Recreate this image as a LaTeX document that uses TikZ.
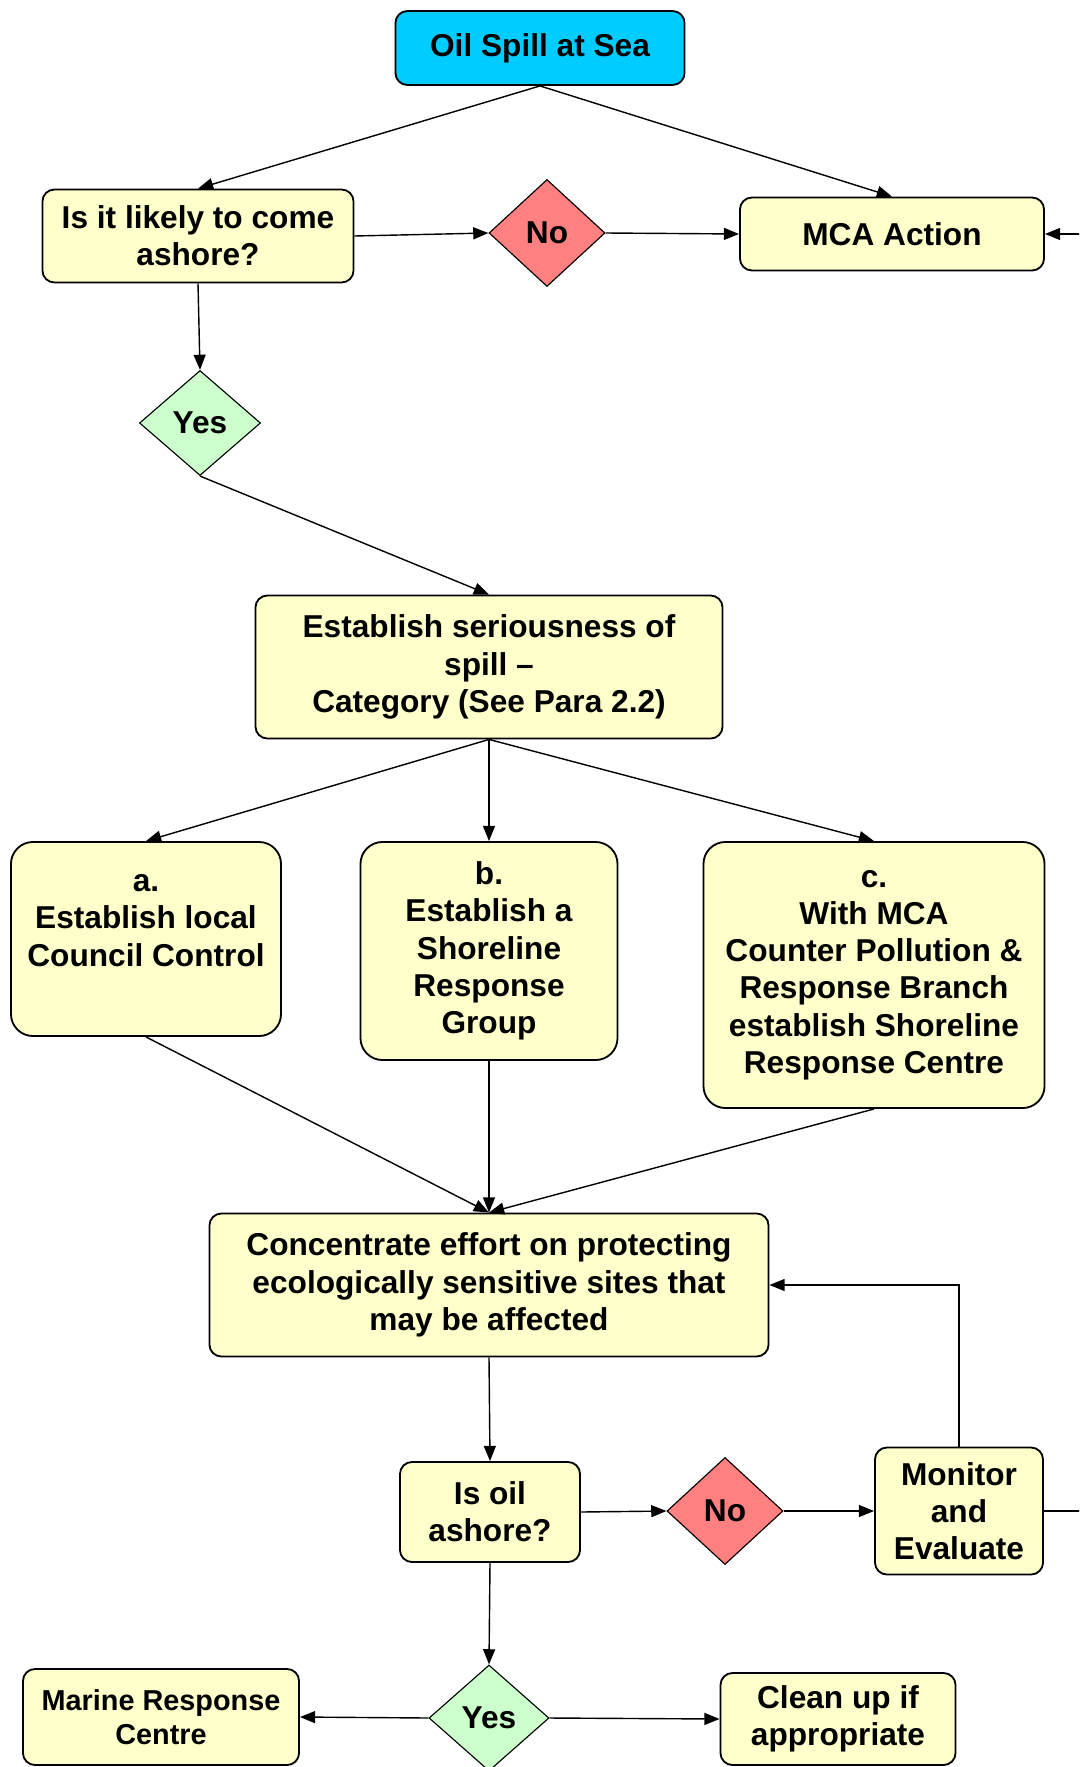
\documentclass[tikz,border=0pt]{standalone}
\usepackage{fontspec}
\setmainfont{Liberation Sans}
\usetikzlibrary{shapes,arrows.meta,positioning,calc}
\definecolor{spillcyan}{RGB}{0,204,255}
\definecolor{boxyellow}{RGB}{255,255,204}
\definecolor{norose}{RGB}{255,128,128}
\definecolor{yesgreen}{RGB}{204,255,204}

\begin{document}
\begin{tikzpicture}[x=0.025cm, y=-0.025cm,
    every node/.style={font=\bfseries\fontsize{22.5}{26.5}\selectfont},
    stage/.style={rectangle, rounded corners=0.3cm, draw=black, line width=1.3pt, fill=boxyellow, align=center, inner sep=2pt},
    option/.style={stage, rounded corners=0.55cm},
    choice/.style={diamond, draw=black, line width=0.8pt, inner sep=0pt, minimum width=2.9cm, minimum height=2.675cm},
    flow/.style={-{Triangle[length=0.38cm,width=0.3cm]}, line width=1pt},
]
    \useasboundingbox (0,0) rectangle (1079,1767);
    \clip (0,0) rectangle (1079,1767);

    % Top
    \node[stage, fill=spillcyan, minimum width=7.225cm, minimum height=1.85cm] (spill) at (540,48) {Oil Spill at Sea};

    \node[stage, minimum width=7.775cm, minimum height=2.325cm] (likely) at (198,236) {Is it likely to come\\ashore?};
    \node[choice, fill=norose] (notashore) at (547,233) {No};
    \node[stage, minimum width=7.6cm, minimum height=1.825cm] (mca) at (892,234) {MCA Action};
    \node[choice, fill=yesgreen, minimum width=3.025cm, minimum height=2.625cm] (ashore) at (200,423) {Yes};

    % Category
    \node[stage, minimum width=11.675cm, minimum height=3.575cm] (category) at (489,667) {
        Establish seriousness of\\
        spill --\\
        Category (See Para 2.2)
    };

    % Options a, b, c
    \node[option, minimum width=6.75cm, minimum height=4.85cm] (optA) at (146,939) {
        a.\\
        Establish local\\
        Council Control\\
        ~
    };

    \node[option, minimum width=6.425cm, minimum height=5.45cm] (optB) at (489,951) {
        b.\\
        Establish a\\
        Shoreline\\
        Response\\
        Group
    };

    \node[option, minimum width=8.525cm, minimum height=6.65cm] (optC) at (874,975) {
        c.\\
        With MCA\\
        Counter Pollution \&\\
        Response Branch\\
        establish Shoreline\\
        Response Centre
    };

    % Protection
    \node[stage, minimum width=13.975cm, minimum height=3.575cm] (protect) at (489,1285) {
        Concentrate effort on protecting\\
        ecologically sensitive sites that\\
        may be affected
    };

    \node[stage, minimum width=4.5cm, minimum height=2.5cm] (oilashore) at (490,1512) {Is oil\\ashore?};
    \node[choice, fill=norose] (notyet) at (725,1511) {No};
    \node[stage, minimum width=4.2cm, minimum height=3.175cm] (monitor) at (959,1511) {Monitor\\and\\Evaluate};

    % Bottom
    \node[choice, fill=yesgreen, minimum width=3cm, minimum height=2.65cm] (landed) at (489,1718) {Yes};
    \node[stage, minimum width=6.9cm, minimum height=2.4cm, font=\bfseries\fontsize{20.5}{24}\selectfont] (marine) at (161,1717) {Marine Response\\Centre};
    \node[stage, minimum width=5.875cm, minimum height=2.3cm] (cleanup) at (838,1719) {Clean up if\\appropriate};

    % Connectors
    \draw[flow] (spill.south) -- (likely.north);
    \draw[flow] (spill.south) -- (mca.north);
    \draw[flow] (likely.east) -- (notashore.west);
    \draw[flow] (notashore.east) -- (mca.west);
    \draw[flow] (likely.south) -- (ashore.north);
    \draw[flow] (ashore.south) -- (category.north);

    \draw[flow] (category.south) -- (optA.north);
    \draw[flow] (category.south) -- (optB.north);
    \draw[flow] (category.south) -- (optC.north);

    \draw[flow] (optA.south) -- (protect.north);
    \draw[flow] (optB.south) -- (protect.north);
    \draw[flow] (optC.south) -- (protect.north);

    \draw[flow] (protect.south) -- (oilashore.north);
    \draw[flow] (oilashore.east) -- (notyet.west);
    \draw[flow] (notyet.east) -- (monitor.west);
    \draw[flow] (monitor.north) |- (protect.east);
    \draw[flow] (monitor.east) -- ++(80,0) |- (mca.east);

    \draw[flow] (oilashore.south) -- (landed.north);
    \draw[flow] (landed.west) -- (marine.east);
    \draw[flow] (landed.east) -- (cleanup.west);
\end{tikzpicture}
\end{document}
